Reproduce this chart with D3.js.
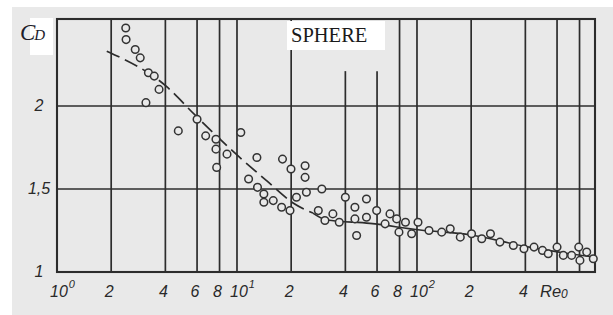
<!DOCTYPE html>
<html>
<head>
<meta charset="utf-8">
<script src="https://cdn.jsdelivr.net/npm/d3@7"></script>
<style>
  html, body { margin: 0; padding: 0; background: #ffffff; }
  svg { display: block; }
</style>
</head>
<body>
<svg id="chart" width="613" height="315"></svg>
<script>
// ---- data ----
const pointsRe = [2.41, 2.42, 2.72, 2.90, 3.22, 3.47, 3.69, 3.12, 4.72, 6.0,
  6.70, 7.64, 7.64, 8.80, 7.71, 10.5, 12.9, 17.9, 19.95, 23.9,
  23.9, 11.6, 13.0, 14.1, 14.1, 15.9, 17.7, 19.7, 21.4, 24.3,
  29.6, 28.3, 30.8, 34.1, 37.0, 40.0, 45.2, 45.2, 52.4, 52.4,
  46.2, 59.7, 70.8, 77.1, 86.3, 101.3, 79.4, 93.4, 66.5, 116.6,
  137.2, 153, 174, 201, 229, 256, 289, 343, 393, 447,
  498, 536, 600, 650, 723, 792, 804, 877, 954];
const pointsCd = [2.47, 2.40, 2.34, 2.29, 2.20, 2.18, 2.10, 2.02, 1.85, 1.92,
  1.82, 1.80, 1.74, 1.71, 1.63, 1.84, 1.69, 1.68, 1.62, 1.64,
  1.57, 1.56, 1.51, 1.47, 1.42, 1.43, 1.39, 1.37, 1.45, 1.48,
  1.50, 1.37, 1.31, 1.35, 1.30, 1.45, 1.39, 1.32, 1.44, 1.33,
  1.22, 1.37, 1.35, 1.32, 1.30, 1.30, 1.24, 1.23, 1.29, 1.25,
  1.24, 1.26, 1.21, 1.23, 1.20, 1.23, 1.18, 1.16, 1.14, 1.15,
  1.13, 1.11, 1.15, 1.10, 1.10, 1.15, 1.07, 1.12, 1.08];

const curveRe = [1.89, 4.07, 5.84, 10.0, 14.6, 20.5, 26.4, 31.6, 54.8, 104, 200, 388, 950];
const curveCd = [2.33, 2.116, 1.946, 1.705, 1.55, 1.416, 1.355, 1.313, 1.293, 1.253, 1.223, 1.157, 1.09];
const dashedUntilRe = 26.4;

const gridRe = [2, 4, 6, 8, 10, 20, 40, 60, 80, 100, 200, 400, 600, 800];
const shortGridRe = [40, 60];
const shortGridTopCd = 2.21;
const gridCd = [1.5, 2];

const xTickValues = [1, 2, 4, 6, 8, 10, 20, 40, 60, 80, 100, 200, 400];
const xTickLabels = ["10^0", "2", "4", "6", "8", "10^1", "2", "4", "6", "8", "10^2", "2", "4"];
const yTickValues = [1, 1.5, 2];
const yTickLabels = ["1", "1,5", "2"];

const xDomain = [1, 975];
const yDomain = [1, 2.524];

// ---- drawing ----
const svg = d3.select("#chart");
const ink = "#2c2c2c";
const bg = "#e9e9e9";

svg.append("rect").attr("x", 12).attr("y", 7).attr("width", 601).attr("height", 308).attr("fill", bg);

const x = d3.scaleLog().domain(xDomain).range([57, 595]);
const y = d3.scaleLinear().domain(yDomain).range([272, 19]);

const g = svg.append("g");

// vertical grid
g.selectAll("line.vg").data(gridRe).enter().append("line")
  .attr("x1", d => x(d)).attr("x2", d => x(d))
  .attr("y1", d => shortGridRe.includes(d) ? y(shortGridTopCd) : y(yDomain[1]))
  .attr("y2", y(yDomain[0]))
  .attr("stroke", ink).attr("stroke-width", 1.7);

// horizontal grid
g.selectAll("line.hg").data(gridCd).enter().append("line")
  .attr("x1", x(xDomain[0])).attr("x2", x(xDomain[1]))
  .attr("y1", d => y(d)).attr("y2", d => y(d))
  .attr("stroke", ink).attr("stroke-width", 1.6);

// frame
g.append("rect")
  .attr("x", x(xDomain[0])).attr("y", y(yDomain[1]))
  .attr("width", x(xDomain[1]) - x(xDomain[0]))
  .attr("height", y(yDomain[0]) - y(yDomain[1]))
  .attr("fill", "none").attr("stroke", ink).attr("stroke-width", 2.1);

// curve
const curvePts = curveRe.map((r, i) => [r, curveCd[i]]);
const line = d3.line().x(d => x(d[0])).y(d => y(d[1])).curve(d3.curveMonotoneX);
const dashedPart = curvePts.filter(d => d[0] <= dashedUntilRe);
const solidPart = curvePts.filter(d => d[0] >= dashedUntilRe);
g.append("path").attr("d", line(dashedPart)).attr("fill", "none")
  .attr("stroke", ink).attr("stroke-width", 1.7).attr("stroke-dasharray", "14,6");
g.append("path").attr("d", line(solidPart)).attr("fill", "none")
  .attr("stroke", ink).attr("stroke-width", 1.6);

// points
const pts = pointsRe.map((r, i) => [r, pointsCd[i]]);
g.selectAll("circle.pt").data(pts).enter().append("circle")
  .attr("cx", d => x(d[0])).attr("cy", d => y(d[1])).attr("r", 3.8)
  .attr("fill", bg).attr("stroke", "#333333").attr("stroke-width", 1.5);

// x tick labels
const xl = svg.append("g").attr("font-family", "Liberation Sans, Arial, sans-serif")
  .attr("font-style", "italic").attr("fill", "#2a2a2a");
xTickValues.forEach((v, i) => {
  const lab = xTickLabels[i];
  if (lab.includes("^")) {
    const [base, exp] = lab.split("^");
    const t = xl.append("text").attr("x", x(v) - 7).attr("y", 297).attr("font-size", 16);
    t.append("tspan").text(base);
    t.append("tspan").attr("dy", -9).attr("dx", 1).attr("font-size", 11).text(exp);
  } else {
    xl.append("text").attr("x", x(v) - 2).attr("y", 297).attr("text-anchor", "middle")
      .attr("font-size", 16).text(lab);
  }
});
const reT = xl.append("text").attr("x", 540).attr("y", 297).attr("font-size", 16.5);
reT.append("tspan").text("Re");
reT.append("tspan").attr("dy", 1).attr("font-size", 12).text("0");

// y tick labels
yTickValues.forEach((v, i) => {
  xl.append("text").attr("x", 39).attr("y", y(v) + 5).attr("text-anchor", "middle")
    .attr("font-size", 16).text(yTickLabels[i]);
});

// label boxes
svg.append("rect").attr("x", 30).attr("y", 18).attr("width", 23).attr("height", 37).attr("fill", "#ffffff");
svg.append("rect").attr("x", 287).attr("y", 21).attr("width", 98).attr("height", 29).attr("fill", "#ffffff");

const cd = svg.append("text").attr("x", 20).attr("y", 40)
  .attr("font-family", "Liberation Serif, Times New Roman, serif").attr("font-style", "italic")
  .attr("fill", "#1c1c2a");
cd.append("tspan").attr("font-size", 23).text("C");
cd.append("tspan").attr("font-size", 15).attr("dx", -1).text("D");

svg.append("text").attr("x", 291).attr("y", 42)
  .attr("font-family", "Liberation Serif, Times New Roman, serif")
  .attr("font-size", 20.5).attr("fill", "#1a1a1a").text("SPHERE");
</script>
</body>
</html>
